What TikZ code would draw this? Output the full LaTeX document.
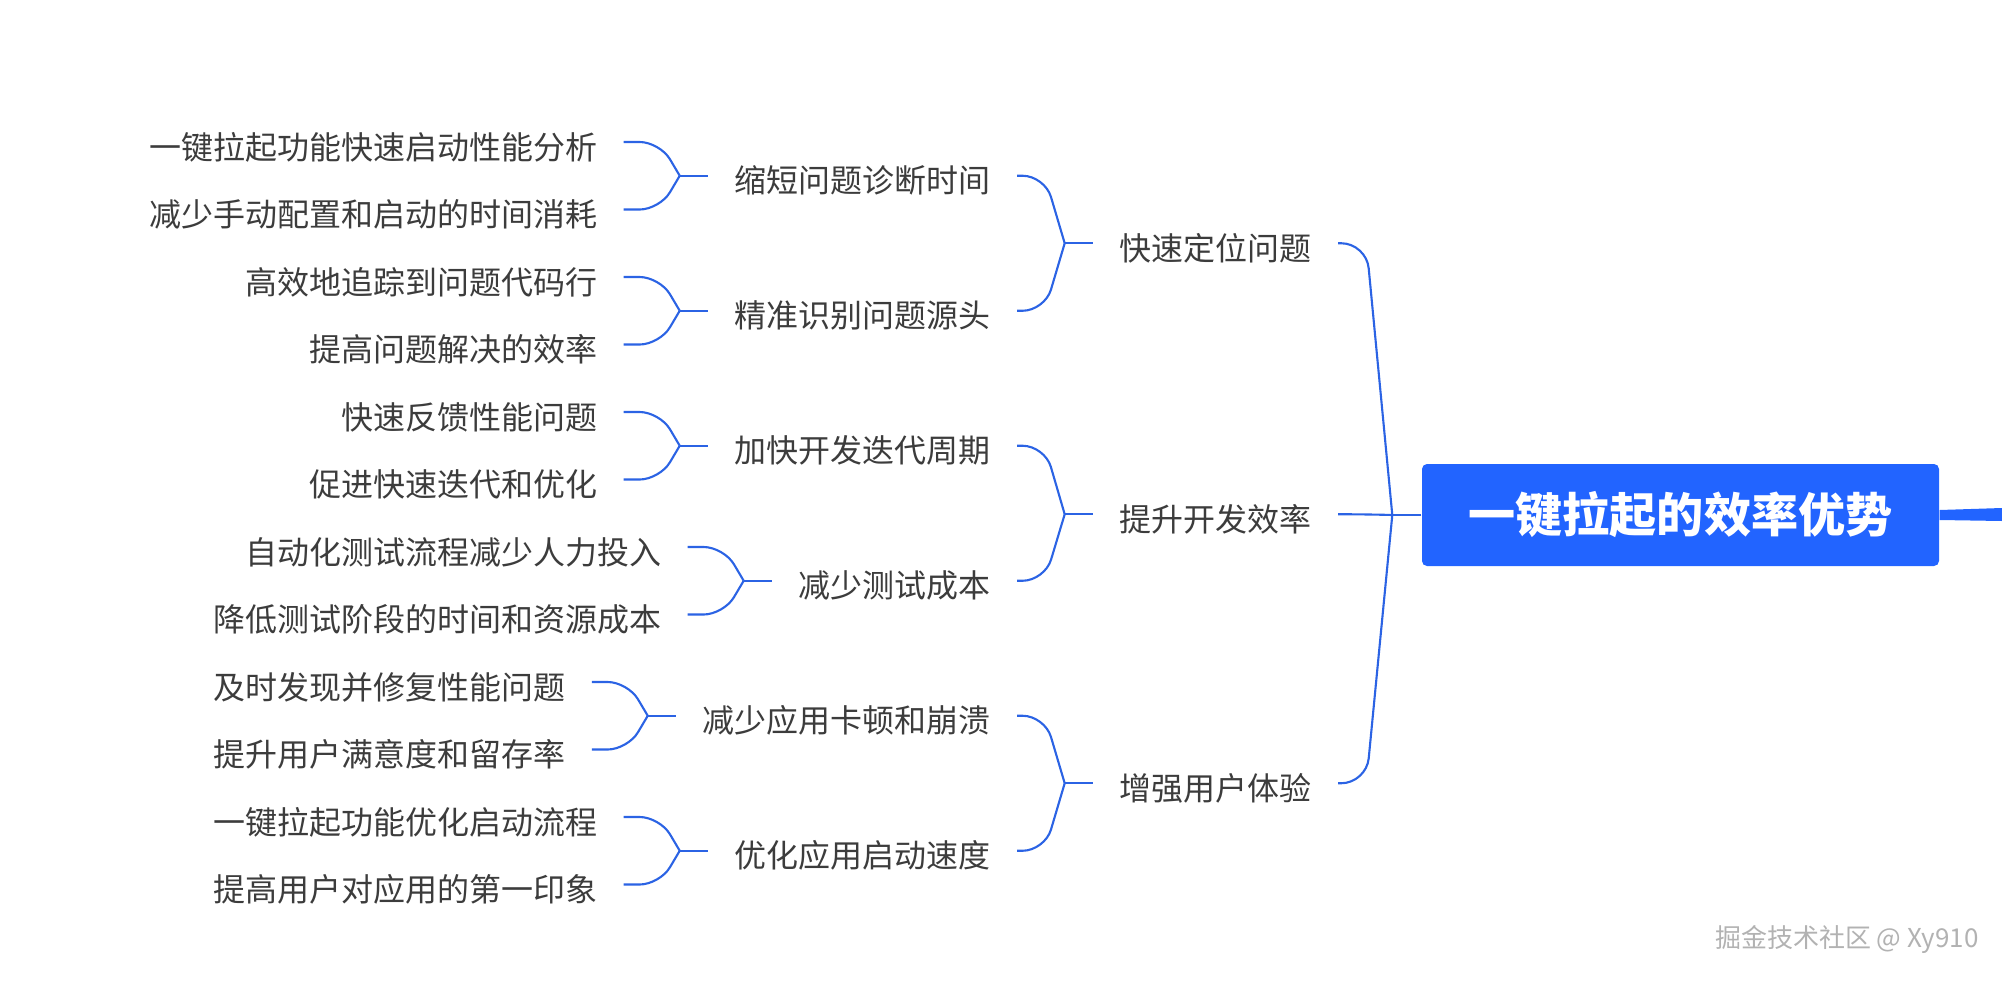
\documentclass[tikz,border=0pt]{standalone}
\usepackage{fontspec}
\setmainfont{Noto Sans CJK SC}
\usepackage{tikz}
\usetikzlibrary{calc}
\definecolor{linkblue}{RGB}{43,99,228}
\definecolor{rootblue}{RGB}{34,100,255}
\definecolor{textgray}{RGB}{60,60,60}
\tikzset{
  topic/.style={anchor=east, inner xsep=0.26cm, inner ysep=0pt, text=textgray,
    font=\fontsize{9.1pt}{11pt}\selectfont, text height=10.9pt, text depth=1.1pt},
  rootbox/.style={fill=rootblue, rounded corners=0.05cm, minimum width=5.17cm,
    minimum height=1.02cm, inner sep=0pt, text=white,
    font=\fontsize{13.4pt}{15pt}\selectfont\bfseries},
  link/.style={linkblue, line width=0.6pt}
}

\begin{document}
\begin{tikzpicture}
    \useasboundingbox (0,0) rectangle (20.02,9.8);
    \node[rootbox] (root) at (16.805,4.65) {一键拉起的效率优势};
    \coordinate (tail) at (20.02,4.655);
    \fill[rootblue] ([yshift=0.05cm]root.east) -- ([yshift=0.065cm]tail)
        -- ([yshift=-0.065cm]tail) -- ([yshift=-0.05cm]root.east) -- cycle;
    % main branches
    \node[topic] (b1) at (13.38,7.3675) {快速定位问题};
    \node[topic] (b2) at (13.38,4.6575) {提升开发效率};
    \node[topic] (b3) at (13.38,1.9675) {增强用户体验};
    % sub branches
    \node[topic] (c1) at (10.17,8.0425) {缩短问题诊断时间};
    \node[topic] (c2) at (10.17,6.6925) {精准识别问题源头};
    \node[topic] (c3) at (10.17,5.3425) {加快开发迭代周期};
    \node[topic] (c4) at (10.17,3.9925) {减少测试成本};
    \node[topic] (c5) at (10.17,2.6425) {减少应用卡顿和崩溃};
    \node[topic] (c6) at (10.17,1.2925) {优化应用启动速度};
    % fork points
    \coordinate (f0) at ([xshift=-0.29cm]root.west);
    \foreach \n in {b1,b2,b3,c1,c2,c3,c4,c5,c6}{% one fork left of each topic
      \coordinate (f\n) at ([xshift=-0.28cm]\n.west);}
    % leaves
    \foreach \i/\p/\y/\t in {1/c1/8.38/一键拉起功能快速启动性能分析,
        2/c1/7.705/减少手动配置和启动的时间消耗, 3/c2/7.03/高效地追踪到问题代码行,
        4/c2/6.355/提高问题解决的效率, 5/c3/5.68/快速反馈性能问题,
        6/c3/5.005/促进快速迭代和优化, 7/c4/4.33/自动化测试流程减少人力投入,
        8/c4/3.655/降低测试阶段的时间和资源成本, 9/c5/2.98/及时发现并修复性能问题,
        10/c5/2.305/提升用户满意度和留存率, 11/c6/1.63/一键拉起功能优化启动流程,
        12/c6/0.955/提高用户对应用的第一印象}{
      \node[topic] (d\i) at ($(f\p |- 0,\y)+(-0.56,0)$) {\t};}
    % connectors
    \draw[link] (root.west) -- (f0);
    \foreach \n in {b1,b2,b3}{
      \draw[link, rounded corners=0.25cm] (\n.east)
          -- ($(f0 |- \n.east)+(-0.26,0)$) -- (f0);
      \draw[link] (\n.west) -- (f\n);}
    \foreach \n/\p in {c1/b1,c2/b1,c3/b2,c4/b2,c5/b3,c6/b3}{
      \draw[link, rounded corners=0.22cm] (\n.east)
          -- ($(f\p |- \n.east)+(-0.2,0)$) -- (f\p);
      \draw[link] (\n.west) -- (f\n);}
    \foreach \i/\p in {1/c1,2/c1,3/c2,4/c2,5/c3,6/c3,7/c4,8/c4,9/c5,10/c5,11/c6,12/c6}{
      \draw[link, rounded corners=0.2cm] (d\i.east)
          -- ($(f\p |- d\i.east)+(-0.2,0)$) -- (f\p);}
    \node[anchor=east, text=gray!60, font=\fontsize{7.4pt}{8pt}\selectfont]
        (mark) at (19.91,0.41) {掘金技术社区 @ Xy910};
\end{tikzpicture}
\end{document}
